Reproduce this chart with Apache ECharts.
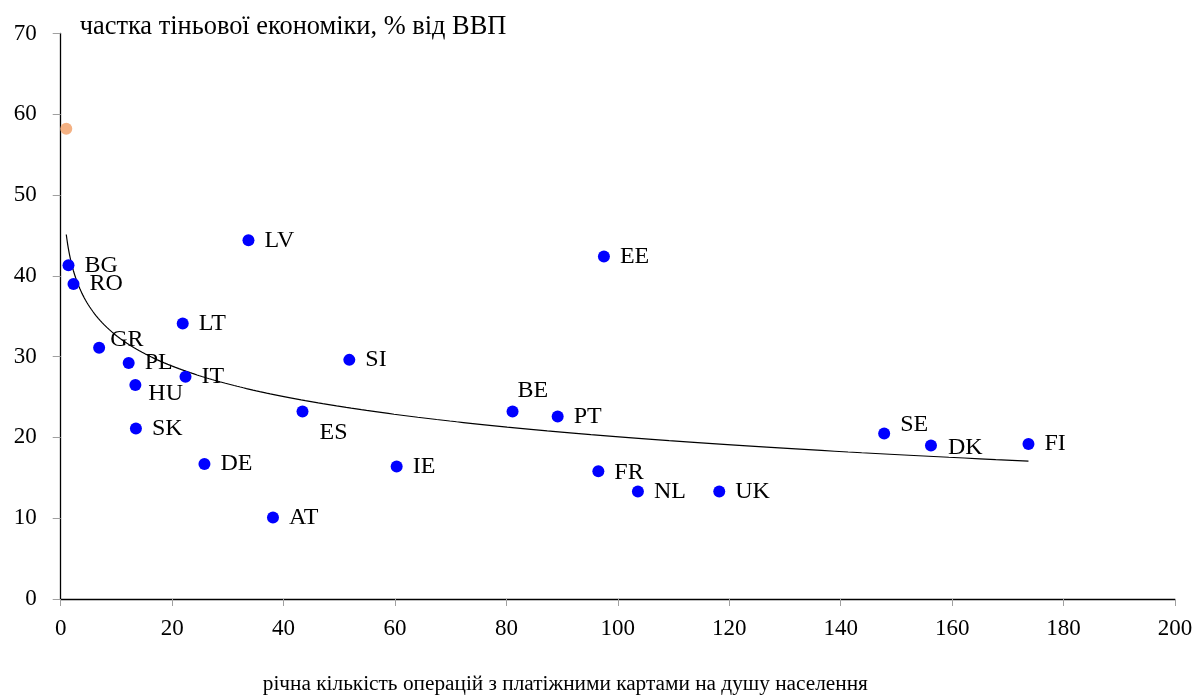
<!DOCTYPE html>
<html>
<head>
<meta charset="utf-8">
<title>Тіньова економіка та платіжні картки</title>
<script src="https://cdn.jsdelivr.net/npm/echarts@6/dist/echarts.min.js"></script>
<style>
  html, body { margin: 0; padding: 0; background: #fff; overflow: hidden; width: 1198px; height: 700px; }
  #chart { width: 1198px; height: 700px; }
</style>
</head>
<body>
<div id="chart"></div>
<script>
// Країни ЄС: операції з платіжними картками на душу населення та частка тіньової економіки
const countries = ['BG', 'RO', 'GR', 'PL', 'HU', 'SK', 'LT', 'IT', 'DE', 'LV', 'AT', 'ES',
                   'SI', 'IE', 'BE', 'PT', 'FR', 'EE', 'NL', 'UK', 'SE', 'DK', 'FI'];
const cardOps = [1.4, 2.3, 6.9, 12.2, 13.4, 13.5, 21.9, 22.4, 25.8, 33.7, 38.1, 43.4,
                 51.8, 60.3, 81.1, 89.2, 96.5, 97.5, 103.6, 118.2, 147.8, 156.2, 173.7];
const shadowShare = [41.3, 39.0, 31.1, 29.2, 26.5, 21.1, 34.1, 27.5, 16.7, 44.4, 10.1, 23.2,
                     29.6, 16.4, 23.2, 22.6, 15.8, 42.4, 13.3, 13.3, 20.5, 19.0, 19.2];

// Окрема точка (виділена іншим кольором)
const extraOps = [1.0];
const extraShare = [58.2];

// Підписи осей
const xTicks = [0, 20, 40, 60, 80, 100, 120, 140, 160, 180, 200];
const yTicks = [0, 10, 20, 30, 40, 50, 60, 70];
const xTitle = 'річна кількість операцій з платіжними картами на душу населення';
const yTitle = 'частка тіньової економіки, % від ВВП';

// Зсуви підписів окремих країн, щоб вони не накладалися
const labelShift = {
  GR: [-5, -8], HU: [-3, 9], ES: [1, 21], BE: [-11, -21],
  SE: [0, -9], DK: [1, 2], FR: [0, 1]
};

// Логарифмічна лінія тренду y = a + b·ln(x), підігнана методом найменших квадратів
const allX = cardOps.concat(extraOps);
const allY = shadowShare.concat(extraShare);
const n = allX.length;
let sL = 0, sY = 0, sLL = 0, sLY = 0;
for (let i = 0; i < n; i++) {
  const L = Math.log(allX[i]);
  sL += L; sY += allY[i]; sLL += L * L; sLY += L * allY[i];
}
const b = (n * sLY - sL * sY) / (n * sLL - sL * sL);
const a = (sY - b * sL) / n;
const xMin = Math.min(...allX), xMax = Math.max(...allX);
const trend = [];
for (let k = 0; k <= 300; k++) {
  const x = xMin * Math.pow(xMax / xMin, k / 300);
  trend.push([x, a + b * Math.log(x)]);
}

const serif = "'Liberation Serif', 'Times New Roman', serif";

const points = countries.map((c, i) => {
  const item = { value: [cardOps[i], shadowShare[i]], name: c };
  if (labelShift[c]) item.label = { offset: labelShift[c] };
  return item;
});

const chart = echarts.init(document.getElementById('chart'), null, { renderer: 'canvas', width: 1198, height: 700 });
chart.setOption({
  animation: false,
  backgroundColor: '#ffffff',
  grid: { left: 60.7, right: 23, top: 33.5, bottom: 97.7, containLabel: false },
  xAxis: {
    type: 'value', min: xTicks[0], max: xTicks[xTicks.length - 1], interval: 20,
    name: xTitle, nameLocation: 'middle', nameGap: 75,
    nameTextStyle: { fontFamily: serif, fontSize: 21.3, color: '#000', padding: [0, 105, 0, 0] },
    axisLine: { show: true, onZero: false, lineStyle: { color: '#000', width: 1.3 } },
    axisTick: { show: true, inside: false, length: 7, lineStyle: { color: '#a0a0a0', width: 1 } },
    axisLabel: { fontFamily: serif, fontSize: 23, color: '#000', margin: 18 },
    splitLine: { show: false }
  },
  yAxis: {
    type: 'value', min: yTicks[0], max: yTicks[yTicks.length - 1], interval: 10,
    name: yTitle, nameLocation: 'end', nameGap: 6,
    nameTextStyle: { fontFamily: serif, fontSize: 26.4, color: '#000', align: 'left', verticalAlign: 'middle', padding: [0, 0, 0, 19] },
    axisLine: { show: true, onZero: false, lineStyle: { color: '#000', width: 1.3 } },
    axisTick: { show: true, inside: false, length: 8, lineStyle: { color: '#a0a0a0', width: 1 } },
    axisLabel: { fontFamily: serif, fontSize: 23, color: '#000', margin: 24 },
    splitLine: { show: false }
  },
  series: [
    {
      type: 'line', data: trend, showSymbol: false, symbol: 'none', silent: true,
      lineStyle: { color: '#000', width: 1.2 }, z: 1
    },
    {
      type: 'scatter', data: points, symbolSize: 12, z: 3,
      itemStyle: { color: '#0000ff', opacity: 1 },
      label: {
        show: true, position: 'right', distance: 10,
        formatter: p => p.name,
        fontFamily: serif, fontSize: 24, color: '#000'
      }
    },
    {
      type: 'scatter', data: extraOps.map((x, i) => [x, extraShare[i]]), symbolSize: 12, z: 3,
      itemStyle: { color: '#f4b183', opacity: 1 }
    }
  ]
});
</script>
</body>
</html>
